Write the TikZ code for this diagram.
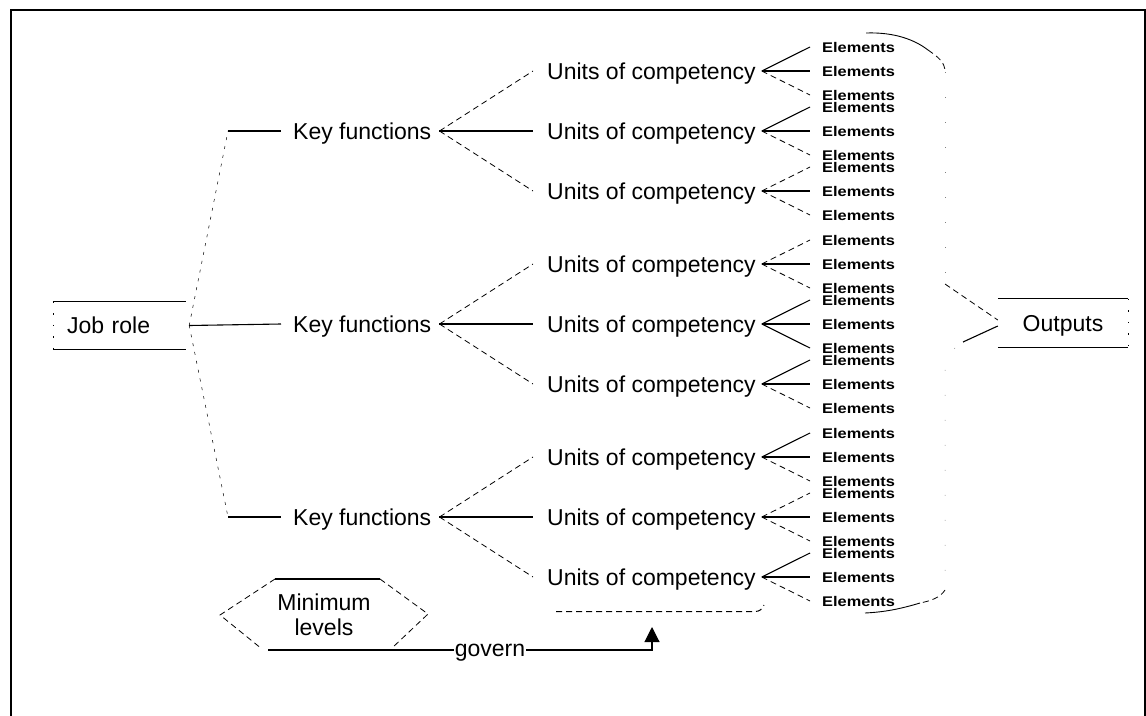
\documentclass[tikz,border=0pt]{standalone}
\usepackage{fontspec}
\setmainfont{Liberation Sans}
\usetikzlibrary{arrows.meta,calc}
\begin{document}
\begin{tikzpicture}[x=1pt,y=-1pt,
  lbl/.style={font=\fontsize{23}{25}\selectfont,inner sep=0pt,text height=16.5pt,text depth=0pt},
  elem/.style={font=\bfseries\fontsize{14}{15}\selectfont,inner sep=0pt,text height=10pt,text depth=0pt,anchor=west},
  ln/.style={line width=1.1pt},
  dln/.style={line width=0.8pt,dash pattern=on 6pt off 4pt},
  fln/.style={line width=0.5pt,dash pattern=on 1.5pt off 10pt},
  vfln/.style={line width=0.5pt,gray,dash pattern=on 1pt off 24pt},
  frame/.style={line width=2pt}]
\useasboundingbox (0,0) rectangle (1146,715);
\draw[frame] (11,718) -- (11,10) -- (1145,10) -- (1145,718);

% job role box
\node[lbl,inner xsep=14pt,minimum height=47pt,text width=105pt,align=left] (jr) at (119.5,325.5) {Job role};
\draw[ln] (jr.north west) -- (jr.north east) (jr.south west) -- (jr.south east);
\draw[fln] (jr.north west) -- (jr.south west);

% key functions
\foreach \k/\y in {1/131,2/324,3/517}
  \node[lbl,anchor=west] (kf\k) at (293,\y) {Key functions};

\coordinate (jrp) at ($(jr.east)+(3,0)$);
\coordinate (kt) at ($(kf1.west)+(-65,0)$);
\coordinate (kb) at ($(kf3.west)+(-65,0)$);
\draw[ln] (jrp) -- ($(kf2.west)+(-12,0)$);
\draw[fln,dash pattern=on 3pt off 6pt] (jrp) -- (kt);
\draw[ln] (kt) -- ($(kf1.west)+(-12,0)$);
\draw[fln,dash pattern=on 3pt off 6pt] (jrp) -- (kb);
\draw[ln] (kb) -- ($(kf3.west)+(-12,0)$);

% units of competency and their elements
\foreach \u/\y/\k/\s/\ta/\tb/\tc in {
    1/71/1/dln/ln/ln/dln, 2/131/1/ln/ln/ln/dln, 3/191/1/dln/dln/ln/dln,
    4/264/2/dln/dln/ln/dln, 5/324/2/ln/ln/ln/ln, 6/384/2/dln/ln/ln/dln,
    7/457/3/dln/ln/ln/dln, 8/517/3/ln/dln/ln/dln, 9/577/3/dln/ln/ln/dln} {
  \node[lbl,anchor=west] (u\u) at (547,\y) {Units of competency};
  \coordinate (uf\u) at ($(u\u.east)+(6,0)$);
  \draw[\s] ($(kf\k.east)+(8,0)$) -- ($(u\u.west)+(-14,0)$);
  \node[elem] (ea\u) at (822,\y-24) {\scalebox{1.17}[1]{Elements}};
  \node[elem] (eb\u) at (822,\y) {\scalebox{1.17}[1]{Elements}};
  \node[elem] (ec\u) at (822,\y+24) {\scalebox{1.17}[1]{Elements}};
  \draw[\ta] (uf\u) -- ($(ea\u.west)+(-12,0)$);
  \draw[\tb] (uf\u) -- ($(eb\u.west)+(-12,0)$);
  \draw[\tc] (uf\u) -- ($(ec\u.west)+(-12,0)$);
}

% outputs box
\node[lbl,minimum width=130pt,minimum height=48pt] (out) at (1063,323) {Outputs};
\draw[ln] (out.north west) -- (out.north east) (out.south west) -- (out.south east);
\draw[fln] (out.north east) -- (out.south east);

% brace gathering all elements towards the outputs
\draw[line width=0.9pt] (866,33) .. controls (895,32) and (915,40) .. (928,50);
\draw[dln] (928,50) .. controls (938,57) and (945,62) .. (945,72);
\draw[vfln] (945,72) -- (945,280);
\draw[dln] (945,284) -- ($(out.west)+(0,-3)$);
\draw[ln] ($(out.west)+(0,3)$) -- (963,342);
\draw[vfln] (955,348) -- (945,362) -- (945,590);
\draw[dln] (945,590) .. controls (940,598) and (930,601) .. (920,603);
\draw[line width=0.9pt] (920,603) .. controls (900,609) and (885,612) .. (865,613);

% brace under the units of competency
\draw[dln,line width=1pt] (556,611.5) -- (755,611.5) .. controls (760,611.5) and (762,609) .. (764,605);

% minimum levels
\node[font=\fontsize{23}{25}\selectfont,align=center,inner sep=0pt] (ml) at (324,615) {Minimum\\levels};
\draw[ln] (275,579) -- (380,579);
\draw[dln] (380,579) -- (428,614) -- (392,648);
\draw[dln] (275,579) -- (220,615) -- (262,649);
\coordinate (mlb) at (268,650);

\node[lbl,text height=12pt,inner xsep=1pt] (gov) at (490,650) {govern};
\draw[ln] (mlb) -- (gov.west);
\draw[ln,-{Triangle[length=15pt,width=15pt]}] (gov.east) -- (652,650) -- (652,627);
\end{tikzpicture}
\end{document}
